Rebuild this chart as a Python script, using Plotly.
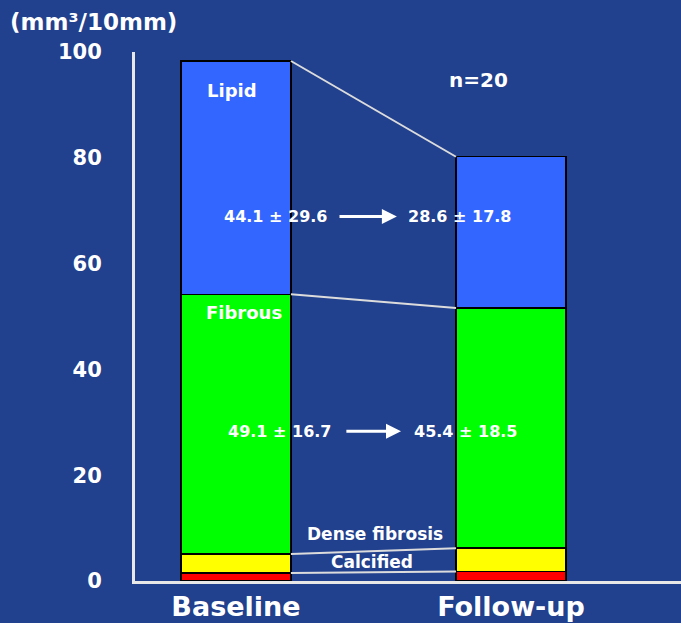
import plotly.graph_objects as go

categories = ["Baseline", "Follow-up"]
calcified = [1.5, 1.8]
dense_fibrosis = [3.6, 4.4]
fibrous = [49.1, 45.4]
lipid = [44.1, 28.6]
lipid_label = ["44.1 ± 29.6", "28.6 ± 17.8"]
fibrous_label = ["49.1 ± 16.7", "45.4 ± 18.5"]
y_ticks = [0, 20, 40, 60, 80, 100]

BG = "#21408d"
FONT = "DejaVu Sans"
WHITE = "#ffffff"
xpos = [0, 1]
bw = 0.4

fig = go.Figure()
series = [
    ("Calcified", calcified, "#ff0000"),
    ("Dense fibrosis", dense_fibrosis, "#ffff00"),
    ("Fibrous", fibrous, "#00ff00"),
    ("Lipid", lipid, "#3366ff"),
]
for name, vals, col in series:
    fig.add_trace(go.Bar(x=xpos, y=vals, name=name, width=bw,
                         marker=dict(color=col, line=dict(color="#000000", width=1.5)),
                         showlegend=False, hoverinfo="skip"))

# cumulative tops for connecting lines
cum = []
run = [0.0, 0.0]
for _, vals, _ in series:
    run = [run[i] + vals[i] for i in range(2)]
    cum.append(list(run))

for tops in cum:
    fig.add_shape(type="line", xref="x", yref="y",
                  x0=xpos[0] + bw / 2, y0=tops[0], x1=xpos[1] - bw / 2, y1=tops[1],
                  line=dict(color="#dcdcdc", width=2))

def txt(x, y, t, size, xref="x", yref="y"):
    fig.add_annotation(x=x, y=y, xref=xref, yref=yref, text=t, showarrow=False,
                       font=dict(family=FONT, size=size, color=WHITE, weight="bold"))

txt(-0.015, 92.8, "Lipid", 18)
txt(0.03, 50.8, "Fibrous", 18)
txt(0.88, 94.7, "n=20", 20)
txt(0.145, 68.9, lipid_label[0], 16)
txt(0.815, 68.9, lipid_label[1], 16)
txt(0.16, 28.3, fibrous_label[0], 16)
txt(0.836, 28.3, fibrous_label[1], 16)
txt(0.505, 8.9, "Dense fibrosis", 17)
txt(0.495, 3.6, "Calcified", 17)

# arrows
for (xa, xb, yy) in [(0.371, 0.585, 68.9), (0.396, 0.60, 28.3)]:
    fig.add_annotation(x=xb, y=yy, ax=xa, ay=yy, xref="x", yref="y", axref="x", ayref="y",
                       text="", showarrow=True, arrowhead=2, arrowsize=1, arrowwidth=3,
                       arrowcolor=WHITE)

fig.add_annotation(x=0, y=1, xref="paper", yref="paper", text="(mm³/10mm)",
                   xanchor="left", yanchor="bottom", xshift=-127, yshift=15,
                   showarrow=False, font=dict(family=FONT, size=23, color=WHITE, weight="bold"))

fig.update_layout(
    width=681, height=623,
    margin=dict(l=135, r=0, t=52, b=42),
    paper_bgcolor=BG, plot_bgcolor=BG,
    barmode="stack",
    xaxis=dict(range=[-0.367, 1.618], tickvals=xpos, ticktext=categories,
               showgrid=False, zeroline=False, showline=True, linecolor="#e8e8e8", linewidth=3,
               ticks="", tickfont=dict(family=FONT, size=27, color=WHITE, weight="bold")),
    yaxis=dict(range=[0, 100], tickvals=y_ticks, showgrid=False, zeroline=False,
               showline=True, linecolor="#e8e8e8", linewidth=3, ticks="",
               ticklabelstandoff=26,
               tickfont=dict(family=FONT, size=21, color=WHITE, weight="bold")),
)

fig.write_html("out.html", config={"displayModeBar": False},
               post_script="document.body.style.margin='0';document.body.style.background='%s';" % BG)
